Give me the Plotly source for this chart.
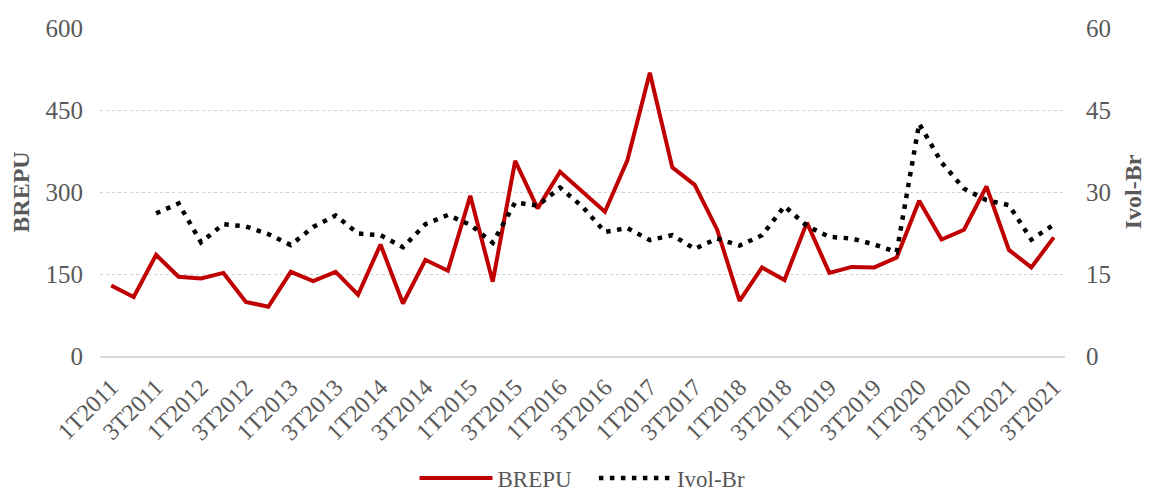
import plotly.graph_objects as go

# quarters 1T2011 .. 3T2021
quarters = [f"{q}T{y}" for y in range(2011, 2022) for q in range(1, 5)][:43]

brepu = [129, 108, 185, 145, 142, 152, 99, 90, 154, 137,
         154, 112, 204, 96, 176, 156, 293, 136, 357, 270,
         337, 300, 264, 358, 518, 345, 313, 231, 101, 162,
         139, 244, 152, 163, 162, 180, 284, 213, 231, 310,
         194, 162, 217]

ivol_br = [None, None, 26.1, 27.9, 20.8, 24.1, 23.7, 22.3, 20.3, 23.6,
           25.7, 22.4, 22.1, 19.9, 24.1, 25.8, 24.0, 20.7, 28.1, 27.5,
           30.8, 27.3, 22.7, 23.4, 21.2, 22.1, 19.6, 21.5, 20.2, 22.1,
           27.4, 23.8, 21.8, 21.5, 20.4, 19.0, 42.5, 35.4, 30.6, 28.5,
           27.6, 21.3, 24.0]

tick_labels = quarters[::2]

font_family = "Liberation Serif, Times New Roman, serif"
grey = "#595959"

fig = go.Figure()
# trailing nbsp widen the gap between the two legend entries
fig.add_trace(go.Scatter(x=quarters, y=brepu, name="BREPU\u00a0\u00a0\u00a0",
                         mode="lines", line=dict(color="#c00000", width=4)))
fig.add_trace(go.Scatter(x=quarters, y=ivol_br, name="Ivol-Br", mode="lines",
                         yaxis="y2", connectgaps=False,
                         line=dict(color="black", width=4.5, dash="4.5px,6.5px")))

# page body has an 8px default margin, so the figure is 8px smaller
fig.update_layout(
    width=1145, height=483,
    margin=dict(l=92, r=88, t=20, b=135, autoexpand=False),
    plot_bgcolor="white", paper_bgcolor="white",
    font=dict(family=font_family, size=23, color=grey),
    xaxis=dict(type="category", range=[-0.5, 42.5], automargin=False,
               tickmode="array", tickvals=tick_labels, ticktext=tick_labels,
               tickangle=-45, showgrid=False, showline=True,
               linecolor="#d9d9d9", linewidth=1.5,
               ticks="outside", ticklen=6, tickcolor="rgba(0,0,0,0)",
               tickfont=dict(size=24, color=grey)),
    yaxis=dict(range=[0, 600], dtick=150, showgrid=True, automargin=False,
               gridcolor="#d0d0d0", griddash="dot", gridwidth=1,
               zeroline=False, ticks="outside", ticklen=11,
               tickcolor="rgba(0,0,0,0)", tickfont=dict(size=25, color=grey),
               title=dict(text="<b>BREPU</b>", font=dict(size=24, color=grey),
                          standoff=10)),
    yaxis2=dict(range=[0, 60], dtick=15, overlaying="y", side="right",
                showgrid=False, zeroline=False, ticks="outside", ticklen=15,
                automargin=False,
                tickcolor="rgba(0,0,0,0)", tickfont=dict(size=25, color=grey),
                title=dict(text="<b>Ivol-Br</b>", font=dict(size=24, color=grey),
                           standoff=14)),
    legend=dict(orientation="h", x=0.5, xanchor="center", y=-0.372,
                yanchor="middle", font=dict(size=23, color=grey),
                itemwidth=73),
)

fig.write_html("out.html")
